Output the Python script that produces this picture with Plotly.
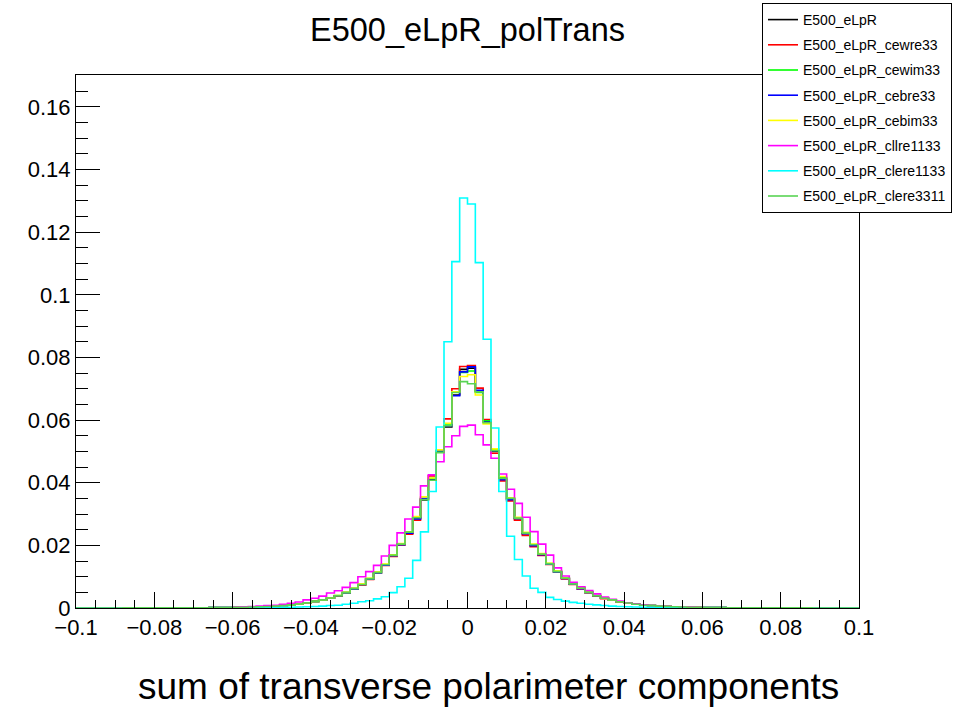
import numpy as np
import plotly.graph_objects as go

# ---------------- data ----------------
# 100 bins of width 0.002 from -0.1 to 0.1
bin_lo, bin_hi, n_bins = -0.1, 0.1, 100

# far tails (bins for x < -0.06 and x > 0.06), nearly empty
tail_left = [0.00001, 0.00001, 0.00001, 0.00002, 0.00002, 0.00002, 0.00003, 0.00003, 0.00004, 0.00004,
             0.00005, 0.00006, 0.00006, 0.00007, 0.00008, 0.00009, 0.0001, 0.00012, 0.00014, 0.00017]
tail_right = [0.00017, 0.00014, 0.00012, 0.0001, 0.00009, 0.00008, 0.00007, 0.00006, 0.00006, 0.00005,
              0.00004, 0.00004, 0.00003, 0.00003, 0.00002, 0.00002, 0.00002, 0.00001, 0.00001, 0.00001]

# central bins, x from -0.06 to 0.06 (60 bins)
eLpR = [0.0002, 0.00025, 0.0003, 0.0004, 0.0005, 0.0006, 0.0008, 0.0010, 0.0013, 0.0017,
        0.0021, 0.0026, 0.0032, 0.0039, 0.0049, 0.0062, 0.0075, 0.0093, 0.0113, 0.0138,
        0.0168, 0.0203, 0.0240, 0.0286, 0.0345, 0.0410, 0.0498, 0.0578, 0.0680, 0.0762,
        0.0766, 0.0692, 0.0596, 0.0500, 0.0412, 0.0348, 0.0285, 0.0238, 0.0201, 0.0171,
        0.0141, 0.0116, 0.0095, 0.0077, 0.0063, 0.0050, 0.0039, 0.0031, 0.0026, 0.0020,
        0.0016, 0.0012, 0.0009, 0.0008, 0.0006, 0.0005, 0.0004, 0.0003, 0.00025, 0.0002]
cewre33 = [0.0002, 0.00025, 0.0003, 0.0004, 0.0005, 0.0006, 0.0008, 0.0010, 0.0013, 0.0016,
           0.0021, 0.0025, 0.0031, 0.0038, 0.0047, 0.0060, 0.0074, 0.0091, 0.0112, 0.0136,
           0.0165, 0.0201, 0.0236, 0.0280, 0.0348, 0.0422, 0.0502, 0.0604, 0.0700, 0.0771,
           0.0774, 0.0702, 0.0602, 0.0494, 0.0406, 0.0342, 0.0280, 0.0232, 0.0196, 0.0168,
           0.0139, 0.0114, 0.0093, 0.0075, 0.0061, 0.0049, 0.0038, 0.0030, 0.0025, 0.0019,
           0.0015, 0.0012, 0.0009, 0.0007, 0.0006, 0.0005, 0.0004, 0.0003, 0.00025, 0.0002]
cewim33 = [0.0002, 0.00025, 0.0003, 0.0004, 0.0005, 0.0006, 0.0008, 0.0010, 0.0013, 0.0017,
           0.0021, 0.0026, 0.0032, 0.0040, 0.0049, 0.0062, 0.0076, 0.0094, 0.0114, 0.0139,
           0.0170, 0.0205, 0.0243, 0.0290, 0.0348, 0.0414, 0.0500, 0.0588, 0.0690, 0.0752,
           0.0757, 0.0688, 0.0598, 0.0506, 0.0416, 0.0350, 0.0288, 0.0240, 0.0203, 0.0173,
           0.0142, 0.0117, 0.0096, 0.0078, 0.0064, 0.0051, 0.0040, 0.0032, 0.0026, 0.0020,
           0.0016, 0.0012, 0.0009, 0.0008, 0.0006, 0.0005, 0.0004, 0.0003, 0.00025, 0.0002]
cebre33 = [0.0002, 0.00025, 0.0003, 0.0004, 0.0005, 0.0006, 0.0008, 0.0010, 0.0013, 0.0017,
           0.0021, 0.0026, 0.0031, 0.0039, 0.0048, 0.0061, 0.0075, 0.0092, 0.0112, 0.0137,
           0.0167, 0.0202, 0.0239, 0.0284, 0.0350, 0.0408, 0.0502, 0.0582, 0.0678, 0.0754,
           0.0770, 0.0695, 0.0594, 0.0502, 0.0410, 0.0346, 0.0286, 0.0237, 0.0199, 0.0170,
           0.0140, 0.0115, 0.0094, 0.0076, 0.0062, 0.0050, 0.0039, 0.0031, 0.0025, 0.0020,
           0.0016, 0.0012, 0.0009, 0.0008, 0.0006, 0.0005, 0.0004, 0.0003, 0.00025, 0.0002]
cebim33 = [0.0002, 0.00025, 0.0003, 0.0004, 0.0005, 0.0006, 0.0008, 0.0010, 0.0013, 0.0017,
           0.0021, 0.0026, 0.0032, 0.0040, 0.0050, 0.0063, 0.0077, 0.0095, 0.0115, 0.0140,
           0.0169, 0.0206, 0.0242, 0.0292, 0.0355, 0.0415, 0.0505, 0.0590, 0.0690, 0.0739,
           0.0745, 0.0680, 0.0588, 0.0508, 0.0420, 0.0352, 0.0290, 0.0242, 0.0204, 0.0174,
           0.0143, 0.0118, 0.0096, 0.0078, 0.0064, 0.0051, 0.0040, 0.0032, 0.0026, 0.0020,
           0.0016, 0.0012, 0.0009, 0.0008, 0.0006, 0.0005, 0.0004, 0.0003, 0.00025, 0.0002]
cllre1133 = [0.0003, 0.0004, 0.0005, 0.0006, 0.0008, 0.0009, 0.0012, 0.0015, 0.0019, 0.0026,
             0.0031, 0.0038, 0.0048, 0.0055, 0.0066, 0.0081, 0.0100, 0.0116, 0.0136, 0.0166,
             0.0200, 0.0240, 0.0284, 0.0322, 0.0390, 0.0425, 0.0467, 0.0515, 0.0550, 0.0580,
             0.0584, 0.0553, 0.0521, 0.0478, 0.0428, 0.0379, 0.0334, 0.0290, 0.0244, 0.0204,
             0.0169, 0.0128, 0.0102, 0.0082, 0.0068, 0.0056, 0.0045, 0.0035, 0.0028, 0.0022,
             0.0017, 0.0013, 0.0010, 0.0008, 0.0006, 0.0005, 0.0004, 0.0003, 0.0003, 0.0002]
clere1133 = [0.0001, 0.0001, 0.0001, 0.0001, 0.0001, 0.00015, 0.0002, 0.00025, 0.0003, 0.0004,
             0.0005, 0.0006, 0.0008, 0.0009, 0.0012, 0.0015, 0.0020, 0.0023, 0.0029, 0.0036,
             0.0049, 0.0068, 0.0095, 0.0152, 0.0243, 0.0372, 0.0578, 0.0850, 0.1106, 0.1309,
             0.1290, 0.1103, 0.0858, 0.0575, 0.0372, 0.0229, 0.0155, 0.0102, 0.0063, 0.0050,
             0.0034, 0.0027, 0.0022, 0.0018, 0.0015, 0.0012, 0.0010, 0.0008, 0.0006, 0.0005,
             0.0004, 0.0003, 0.00025, 0.0002, 0.00015, 0.0001, 0.0001, 0.0001, 0.0001, 0.0001]
clere3311 = [0.0002, 0.00025, 0.0003, 0.0004, 0.0005, 0.0006, 0.0008, 0.0010, 0.0013, 0.0017,
             0.0021, 0.0026, 0.0032, 0.0039, 0.0049, 0.0062, 0.0075, 0.0093, 0.0113, 0.0138,
             0.0168, 0.0204, 0.0242, 0.0288, 0.0346, 0.0408, 0.0496, 0.0582, 0.0688, 0.0723,
             0.0716, 0.0690, 0.0592, 0.0502, 0.0414, 0.0350, 0.0287, 0.0239, 0.0202, 0.0172,
             0.0141, 0.0116, 0.0095, 0.0077, 0.0063, 0.0050, 0.0039, 0.0031, 0.0026, 0.0020,
             0.0016, 0.0012, 0.0009, 0.0008, 0.0006, 0.0005, 0.0004, 0.0003, 0.00025, 0.0002]

series_names = ["E500_eLpR", "E500_eLpR_cewre33", "E500_eLpR_cewim33", "E500_eLpR_cebre33",
                "E500_eLpR_cebim33", "E500_eLpR_cllre1133", "E500_eLpR_clere1133", "E500_eLpR_clere3311"]
series_values = [eLpR, cewre33, cewim33, cebre33, cebim33, cllre1133, clere1133, clere3311]
series_colors = ["#000000", "#ff0000", "#00ff00", "#0000ff", "#ffff00", "#ff00ff", "#00ffff", "#59d454"]

title_text = "E500_eLpR_polTrans"
xaxis_text = "sum of transverse polarimeter components"

# ---------------- figure ----------------
edges = np.linspace(bin_lo, bin_hi, n_bins + 1)
FONT = "Liberation Sans, Arial, sans-serif"

fig = go.Figure()
for i, (name, center, color) in enumerate(zip(series_names, series_values, series_colors)):
    vals = tail_left + center + tail_right
    fig.add_trace(go.Scatter(
        x=edges, y=vals + [vals[-1]], mode="lines", line_shape="hv",
        line=dict(color=color, width=1.6), name=name, legendgroup=f"g{i}",
    ))

W, H = 957, 707
ml, mr, mt, mb = 76, 98, 75, 99
pw = W - ml - mr
ph = H - mt - mb

fig.update_layout(
    width=W, height=H,
    margin=dict(l=ml, r=mr, t=mt, b=mb, autoexpand=False),
    paper_bgcolor="white", plot_bgcolor="white",
    font=dict(family=FONT, color="black"),
    title=dict(text=title_text, x=0.5, xref="paper", xanchor="center",
               y=1 - 30 / H, yref="container", yanchor="middle",
               font=dict(size=32.5, family=FONT, color="black")),
    showlegend=True,
    legend=dict(x=(762 - ml) / pw, y=(H - mb - 3) / ph, xanchor="left", yanchor="top",
                bgcolor="white", bordercolor="black", borderwidth=1,
                font=dict(size=14, family=FONT, color="black"),
                traceorder="grouped", tracegroupgap=4, itemwidth=30),
    xaxis=dict(range=[bin_lo, bin_hi], tick0=-0.1, dtick=0.02, ticks="inside", ticklen=16,
               tickcolor="black", tickwidth=1, showline=True, linecolor="black", linewidth=1,
               mirror=True, showgrid=False, zeroline=False,
               tickfont=dict(size=22, family=FONT, color="black"),
               minor=dict(ticks="inside", ticklen=8, tickcolor="black", dtick=0.005, tick0=-0.1,
                          showgrid=False)),
    yaxis=dict(range=[0, 0.1702], tick0=0, dtick=0.02, ticks="inside", ticklen=24,
               tickcolor="black", tickwidth=1, showline=True, linecolor="black", linewidth=1,
               mirror=True, showgrid=False, zeroline=False,
               tickfont=dict(size=22, family=FONT, color="black"),
               minor=dict(ticks="inside", ticklen=12, tickcolor="black", dtick=0.005, tick0=0,
                          showgrid=False)),
    annotations=[dict(text=xaxis_text, x=(841 - ml) / pw, xref="paper", y=-(686 - (H - mb)) / ph,
                      yref="paper", xanchor="right", yanchor="middle", showarrow=False,
                      font=dict(size=37, family=FONT, color="black"))],
)

fig.write_html("out.html")
